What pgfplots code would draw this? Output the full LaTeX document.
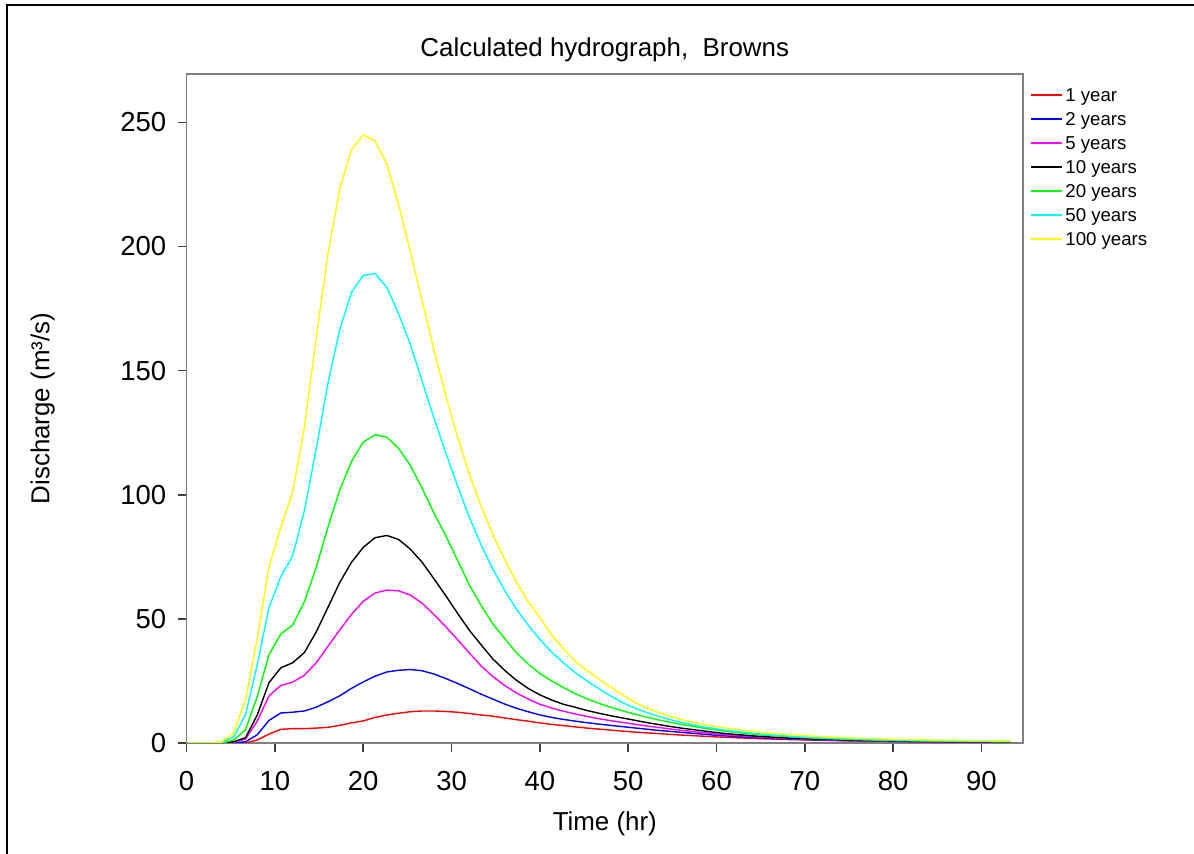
\documentclass[border=0pt]{standalone}
\usepackage{fontspec}
\setmainfont{Liberation Sans}
\usepackage{pgfplots}
\usepackage{pgfplotstable}
\pgfplotsset{compat=1.18}

\definecolor{cRed}{rgb}{1,0,0}
\definecolor{cBlue}{rgb}{0,0,1}
\definecolor{cMag}{rgb}{1,0,1}
\definecolor{cGreen}{rgb}{0,1,0}
\definecolor{cCyan}{rgb}{0,1,1}
\definecolor{cYellow}{rgb}{1,1,0}

\newcommand\fA{\fontsize{13}{15.6}\selectfont}
\newcommand\fT{\fontsize{13.8}{16.5}\selectfont}
\newcommand\fL{\fontsize{9.35}{11}\selectfont}

% discharge (m3/s) against time (hr), one column per return period
\pgfplotstableread{
t y1 y2 y5 y10 y20 y50 y100
0 0 0 0 0 0 0 0
1.33 0 0 0 0 0 0 0
2.67 0 0 0 0 0 0 0
4 0 0 0 0 0 0.3 0.5
5.33 0 0 0.3 0.5 1.2 2.5 4.1
6.67 0 0.5 1.6 2.1 5.3 11.3 17.4
8 1.2 3.3 8.8 11.3 18.7 31.5 42
9.33 3.6 9.1 19 24.3 35.6 54.6 71
10.67 5.5 12.1 23.2 30.3 43.9 67 87
12 5.8 12.4 24.5 32.3 47.5 75.3 101
13.33 5.8 12.9 27.3 36.4 56.8 93.5 127
14.67 6 14.4 32.3 44.7 70.7 118.4 163
16 6.3 16.6 38.9 54.6 86.9 144.9 197
17.33 7.1 19 45.5 64.6 101.8 166.4 223
18.67 8.1 22 51.8 72.8 113.4 181.6 239
20 8.9 24.6 57.1 78.8 121.2 188.4 245
21.33 10.3 26.9 60.4 82.7 124.2 189.1 242.5
22.67 11.3 28.6 61.6 83.6 123.2 183.5 233.2
24 12 29.3 61.3 82 118.7 173 217
25.33 12.6 29.6 59.6 78.1 111.8 160.6 198
26.67 12.9 29.1 56.3 72.8 102.6 145.7 178
28 12.9 27.8 51.8 66.2 92.7 131 158.5
29.33 12.7 26 46.9 59.4 83.6 117 140
30.67 12.4 24 41.7 52.3 73.7 103.6 123.5
32 11.9 21.9 36.3 45.5 63.7 91 108.5
33.33 11.3 19.7 31.1 39.6 55.5 80 95.5
34.67 10.8 17.7 26.8 33.9 48 70 84
36 10.1 15.7 23.2 29.3 42.2 61.6 74
37.33 9.4 14 20.2 25.3 36.4 54 65
38.67 8.8 12.6 17.7 22 31.8 47.5 57
40 8.1 11.3 15.6 19.4 28 41.7 50.5
41.33 7.5 10.3 14.1 17.3 25 36.6 43.5
42.67 7 9.5 12.8 15.6 22.3 32.3 38
44 6.5 8.8 11.7 14.4 19.9 28.4 33
45.33 6 8.2 10.7 13.1 17.8 25 29.2
46.67 5.6 7.6 9.8 12 16 21.9 25.8
48 5.2 7.1 9 11 14.4 19 22.5
49.33 4.8 6.6 8.3 10.1 13 16.3 19.5
50.67 4.4 6.1 7.6 9.2 11.7 14.2 16.5
52 4.1 5.6 6.9 8.3 10.5 12.4 14.3
53.33 3.8 5.1 6.3 7.5 9.4 10.9 12.4
54.67 3.5 4.7 5.7 6.7 8.4 9.5 10.8
56 3.2 4.3 5.1 6 7.5 8.3 9.5
57.33 2.95 3.9 4.6 5.4 6.7 7.3 8.4
58.67 2.7 3.5 4.1 4.8 5.9 6.4 7.4
60 2.45 3.1 3.6 4.2 5.2 5.7 6.6
61.33 2.25 2.8 3.2 3.7 4.6 5 5.9
62.67 2.05 2.5 2.9 3.3 4.1 4.5 5.3
64 1.85 2.25 2.6 2.9 3.6 4 4.7
65.33 1.7 2 2.3 2.6 3.2 3.5 4.2
66.67 1.55 1.8 2.05 2.3 2.9 3.1 3.8
68 1.4 1.6 1.85 2.05 2.6 2.8 3.4
69.33 1.3 1.45 1.65 1.85 2.3 2.5 3.1
70.67 1.2 1.3 1.45 1.65 2.05 2.25 2.8
72 1.1 1.15 1.3 1.5 1.85 2 2.5
74.67 0.9 0.95 1.05 1.2 1.5 1.7 2.1
77.33 0.75 0.8 0.85 1 1.2 1.4 1.8
80 0.65 0.65 0.7 0.85 1 1.2 1.5
82.67 0.55 0.55 0.6 0.7 0.85 1 1.3
85.33 0.45 0.45 0.5 0.6 0.75 0.9 1.1
88 0.4 0.4 0.45 0.55 0.65 0.8 1
90.67 0.35 0.35 0.4 0.5 0.6 0.7 0.9
93.33 0.3 0.3 0.35 0.45 0.5 0.6 0.8
}\hydro

\begin{document}
\begin{tikzpicture}
\path[use as bounding box] (-93.3bp,-55.5bp) rectangle (503.7bp,371.5bp);
\draw[black, line width=1bp] (-89.95bp,-60bp) -- (-89.95bp,369bp) -- (510bp,369bp);
\begin{axis}[
    at={(0,0)}, anchor=south west,
    scale only axis,
    width=418.2bp, height=334.5bp,
    xmin=0, xmax=94.7,
    ymin=0, ymax=269.5,
    xtick={0,10,...,90},
    ytick={0,50,...,250},
    xtick pos=left, ytick pos=left,
    tick align=outside,
    major tick length=4.5bp,
    axis line style={black!50, line width=0.75bp},
    every tick/.style={black!75, line width=0.75bp},
    /pgf/number format/assume math mode=true,
    tick label style={font=\fT},
    xticklabel style={anchor=base, yshift=-19.25bp},
    yticklabel style={anchor=east, inner sep=0pt, xshift=-5.5bp},
    every axis x label/.style={at={(rel axis cs:0.5,0)}, yshift=-40.5bp, anchor=center, font=\fA},
    every axis y label/.style={at={(rel axis cs:0,0.5)}, xshift=-72bp, rotate=90, anchor=center, font=\fA},
    every axis title/.style={at={(rel axis cs:0.5,1)}, yshift=12bp, anchor=center, font=\fA},
    xlabel={Time (hr)},
    ylabel={Discharge (m³/s)},
    title={Calculated hydrograph,\ \ Browns},
    legend style={at={(rel axis cs:1,1)}, anchor=north west, xshift=3.5bp, yshift=-7.15bp,
        draw=none, fill=none, inner sep=0pt, outer sep=0pt,
        row sep=3.3bp, column sep=1.5bp, font=\fL,
        nodes={inner sep=0pt, text height=6.7bp, text depth=2bp}},
    legend cell align=left,
    legend image code/.code={\draw[#1] (0bp,1bp) -- (15.5bp,1bp);},
    every axis plot/.append style={line width=0.7bp},
]
\addplot[cRed] table[x=t, y=y1] {\hydro};
\addplot[cBlue] table[x=t, y=y2] {\hydro};
\addplot[cMag] table[x=t, y=y5] {\hydro};
\addplot[black] table[x=t, y=y10] {\hydro};
\addplot[cGreen] table[x=t, y=y20] {\hydro};
\addplot[cCyan] table[x=t, y=y50] {\hydro};
\addplot[cYellow] table[x=t, y=y100] {\hydro};
\legend{1 year, 2 years, 5 years, 10 years, 20 years, 50 years, 100 years}
\end{axis}
\end{tikzpicture}
\end{document}
